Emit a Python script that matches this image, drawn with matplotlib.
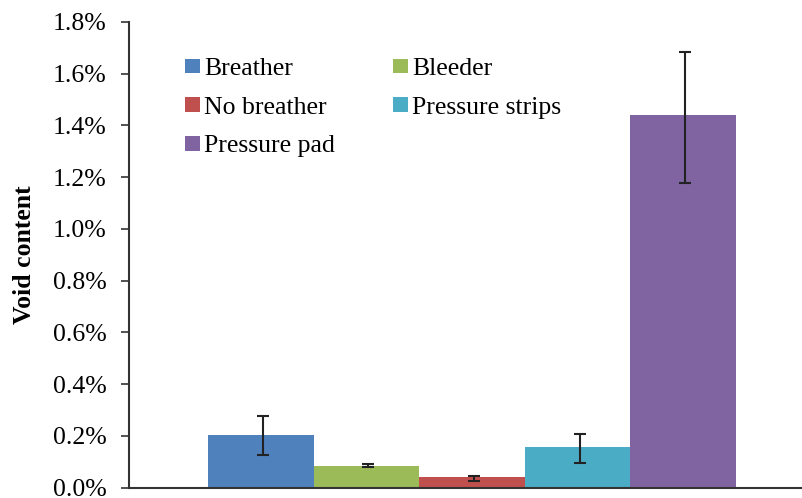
import numpy as np
import matplotlib.pyplot as plt

plt.rcParams['font.family'] = 'Liberation Serif'

# data (void content in %)
labels = ['Breather', 'Bleeder', 'No breather', 'Pressure strips', 'Pressure pad']
values = [0.204, 0.085, 0.040, 0.157, 1.440]
err_low = [0.080, 0.004, 0.013, 0.063, 0.261]
err_high = [0.074, 0.004, 0.006, 0.051, 0.244]
colors = ['#4F81BD', '#9BBB59', '#C0504D', '#4BACC6', '#8064A2']
yticks = [0.0, 0.2, 0.4, 0.6, 0.8, 1.0, 1.2, 1.4, 1.6, 1.8]

W, H = 802, 498
fig = plt.figure(figsize=(W / 100, H / 100), dpi=100)
ax = fig.add_axes([129 / W, 1 - 487.5 / H, (W - 129) / W, (487.5 - 22) / H])

bw = 0.154
n = len(values)
offsets = (np.arange(n) - (n - 1) / 2) * bw
bars = []
for i in range(n):
    b = ax.bar(offsets[i], values[i], width=bw, color=colors[i], label=labels[i])
    bars.append(b)
    ax.errorbar(offsets[i] + 0.003, values[i], yerr=[[err_low[i]], [err_high[i]]],
                fmt='none', ecolor='#222222', elinewidth=1.5, capsize=4, capthick=1.5)

ax.set_xlim(-0.5, (W - 129) / 686 - 0.5)
ax.set_ylim(0, 1.8)
ax.set_yticks(yticks)
ax.set_yticklabels([f'{t:.1f}%' for t in yticks], fontsize=18.5)
ax.set_xticks([])
ax.tick_params(axis='y', direction='out', length=6, width=1.2, pad=10, color='#333333')
for s in ['top', 'right']:
    ax.spines[s].set_visible(False)
for s in ['left', 'bottom']:
    ax.spines[s].set_color('#333333')
    ax.spines[s].set_linewidth(1.5)

fig.text(25 / W, 1 - 255 / H, 'Void content', rotation=90, ha='center', va='center',
         fontsize=18.5, fontweight='bold')

# row-wise legend order like the original
order = [0, 2, 4, 1, 3]
ax.legend([bars[i] for i in order], [labels[i] for i in order],
          ncol=2, loc='upper left', bbox_to_anchor=(185 / W, 1 - 58 / H),
          bbox_transform=fig.transFigure, frameon=False, fontsize=18.5,
          borderpad=0, borderaxespad=0, handlelength=0.6, handleheight=0.5,
          handletextpad=0.15, columnspacing=2.25, labelspacing=0.65)

fig.savefig('out.png', dpi=100)
